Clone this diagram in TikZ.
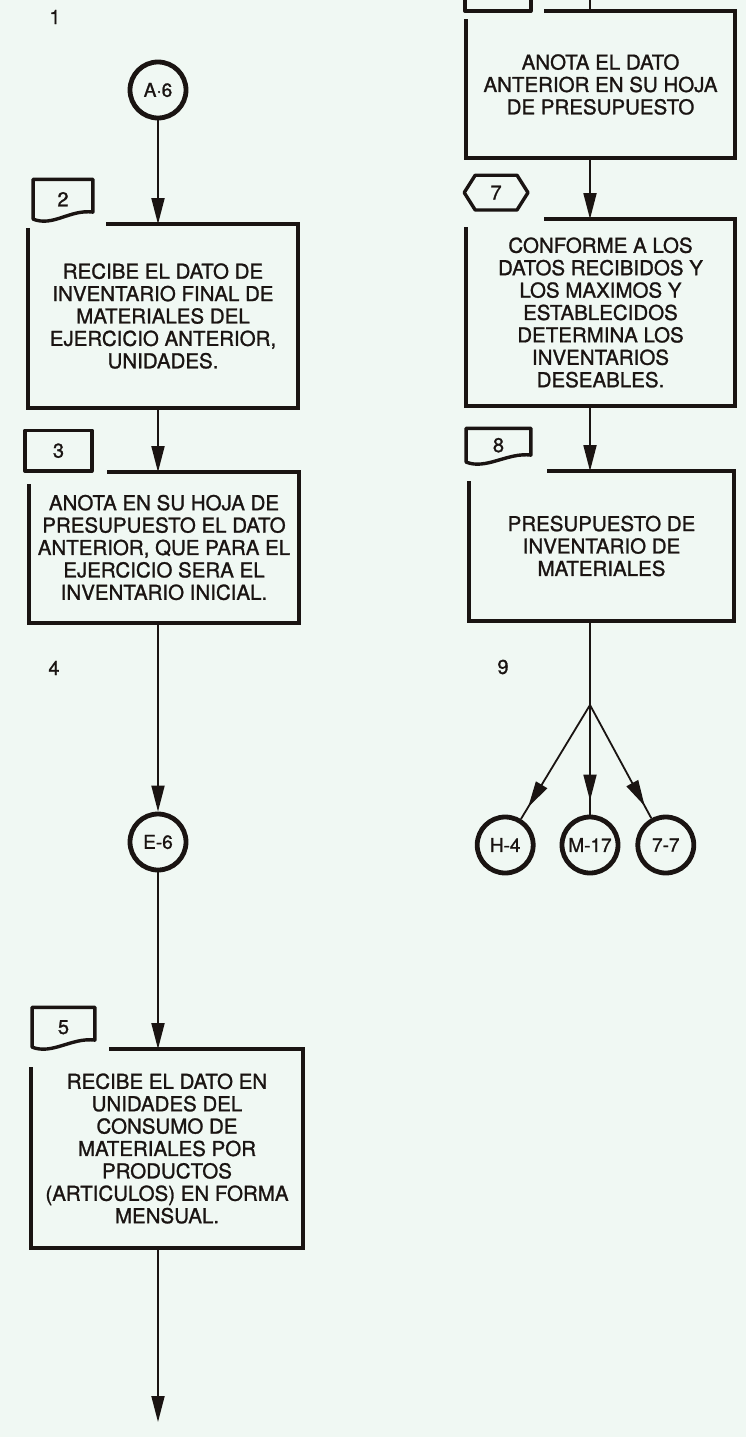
\documentclass[tikz,border=0pt]{standalone}
\usepackage{fontspec}
\setmainfont{TeX Gyre Heros}[FakeBold=1.2]
\usepackage{tikz}
\usetikzlibrary{arrows.meta, positioning, calc, decorations.markings}
\definecolor{paper}{RGB}{240,248,243}
\definecolor{ink}{RGB}{26,20,18}

\begin{document}
\begin{tikzpicture}[x=1pt, y=1pt, >={Triangle[length=26pt,width=13pt]}, line width=1.8pt, color=ink, node distance=20pt]
\tikzstyle{box}=[inner sep=0, align=center, font=\fontsize{20.5}{22.4}\selectfont]
\tikzstyle{frame}=[line width=4.4pt, line join=miter]
\tikzstyle{tag}=[inner sep=0, font=\fontsize{20}{20}\selectfont]
\tikzstyle{tagline}=[line width=3.4pt, line join=round]
\tikzstyle{conn}=[circle, draw, line width=4.8pt, minimum size=56pt, inner sep=0, font=\fontsize{19}{19}\selectfont]
\tikzstyle{numlabel}=[inner sep=0, font=\fontsize{20}{20}\selectfont]
\tikzstyle{tipnear}=[postaction={decorate}, decoration={markings, mark=at position -14pt with {\arrow{>}}}]

\useasboundingbox (0,0) rectangle (746,-1437);
\fill[paper] (0,0) rectangle (746,-1437);
\clip (0,0) rectangle (746,-1437);

% left column
\node[numlabel] (n1) at (55,-17) {1};
\node[conn] (a6) at (158,-90) {A·6};
\node[box, minimum width=268pt, minimum height=182pt] (b2) at (163,-316) {RECIBE EL DATO DE\\INVENTARIO FINAL DE\\MATERIALES DEL\\EJERCICIO ANTERIOR,\\UNIDADES.};
\node[box, minimum width=268pt, minimum height=149pt] (b3) at (164,-547.5) {ANOTA EN SU HOJA DE\\PRESUPUESTO EL DATO\\ANTERIOR, QUE PARA EL\\EJERCICIO SERA EL\\INVENTARIO INICIAL.};
\node[numlabel] (n4) at (54,-668) {4};
\node[conn] (e6) at (158,-842) {E-6};
\node[box, minimum width=270pt, minimum height=197pt] (b5) at (167,-1148.5) {RECIBE EL DATO EN\\UNIDADES DEL\\CONSUMO DE\\MATERIALES POR\\PRODUCTOS\\(ARTICULOS) EN FORMA\\MENSUAL.};
\coordinate (end5) at (158,-1422);

% right column
\coordinate (in6) at (590,0);
\node[box, minimum width=267pt, minimum height=145pt] (b6) at (600.5,-84.5) {ANOTA EL DATO\\ANTERIOR EN SU HOJA\\DE PRESUPUESTO};
\node[box, minimum width=267pt, minimum height=185pt] (b7) at (600.5,-312.5) {CONFORME A LOS\\DATOS RECIBIDOS Y\\LOS MAXIMOS Y\\ESTABLECIDOS\\DETERMINA LOS\\INVENTARIOS\\DESEABLES.};
\node[box, minimum width=263pt, minimum height=148pt] (b8) at (601.5,-546) {PRESUPUESTO DE\\INVENTARIO DE\\MATERIALES};
\node[numlabel] (n9) at (503,-667) {9};
\coordinate (fork) at (590,-705);
\node[conn] (m17) at (590,-845) {M-17};
\node[conn, left=24pt of m17] (h4) {H-4};
\node[conn, right=15pt of m17] (c77) {7-7};

% tags
\node[tag, minimum width=58pt, minimum height=38pt, anchor=south west] (t2) at ([shift={(5,5)}]b2.north west) {2};
\node[tag, minimum width=65pt, minimum height=39pt, anchor=south west] (t3) at ([shift={(-4,1)}]b3.north west) {3};
\node[tag, minimum width=61pt, minimum height=38pt, anchor=south west] (t5) at ([shift={(1,2)}]b5.north west) {5};
\node[tag, minimum width=64pt, minimum height=40pt, anchor=south west] (t6) at ([shift={(-1,0)}]b6.north west) {};
\node[tag, minimum width=62pt, minimum height=33pt] (t7) at ([shift={(30,26.5)}]b7.north west) {7};
\node[tag, minimum width=63pt, minimum height=32pt, anchor=south west] (t8) at ([shift={(-3,9)}]b8.north west) {8};

% frames, open at the corner under the tag
\foreach \b/\g in {b2/4pt, b3/12pt, b5/18pt, b6/8pt, b7/8pt, b8/10pt}
  \draw[frame] ([xshift=78pt]\b.north west) -- (\b.north east) -- (\b.south east) -- (\b.south west) -- ([yshift=-\g]\b.north west);

\foreach \t in {t2,t5,t8}
  \draw[tagline] (\t.south west) -- (\t.north west) -- (\t.north east) -- ([yshift=7pt]\t.south east) .. controls +(-23,3) and +(20,-8) .. (\t.south west) -- cycle;
\draw[tagline] (t3.south west) rectangle (t3.north east);
\draw[tagline] (t6.south west) rectangle (t6.north east);
\draw[tagline] (t7.west) -- ([xshift=11pt]t7.north west) -- ([xshift=-11pt]t7.north east) -- (t7.east) -- ([xshift=-11pt]t7.south east) -- ([xshift=11pt]t7.south west) -- cycle;

% connectors
\draw[->] (a6) -- (a6 |- b2.north);
\draw[->] (a6 |- b2.south) -- (a6 |- b3.north);
\draw[->] (e6 |- b3.south) -- (e6);
\draw[->] (e6) -- (e6 |- b5.north);
\draw[->] (e6 |- b5.south) -- (end5);
\draw (in6) -- (in6 |- b6.north);
\draw[->] (in6 |- b6.south) -- (in6 |- b7.north);
\draw[->] (in6 |- b7.south) -- (in6 |- b8.north);
\draw (in6 |- b8.south) -- (fork);
\draw[tipnear] (fork) -- (h4);
\draw[tipnear] (fork) -- (m17);
\draw[tipnear] (fork) -- (c77);
\end{tikzpicture}
\end{document}
